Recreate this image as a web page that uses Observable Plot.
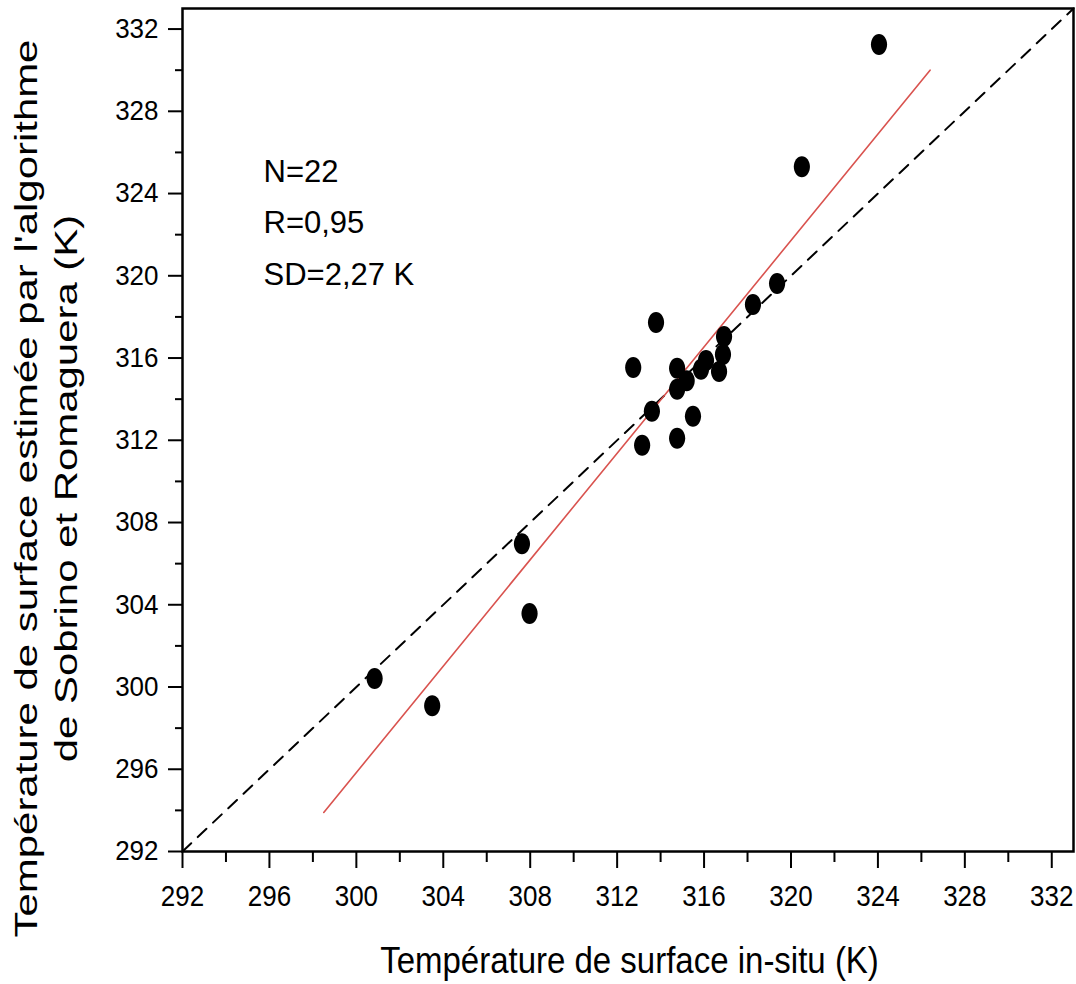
<!DOCTYPE html>
<html>
<head>
<meta charset="utf-8">
<script src="https://cdn.jsdelivr.net/npm/d3@7"></script>
<script src="https://cdn.jsdelivr.net/npm/@observablehq/plot@0.6"></script>
<style>
  html, body { margin: 0; padding: 0; background: #fff; }
  #chart svg { display: block; }
</style>
</head>
<body>
<div id="chart"></div>
<script>
// Data
const xInSitu = [324.05, 320.5, 319.36, 318.25, 316.92, 316.87, 316.69, 316.09, 315.86, 315.2, 314.76,
                 314.76, 313.79, 312.74, 313.6, 315.49, 313.15, 314.76, 307.62, 307.97, 300.84, 303.49];
const yEstimated = [331.25, 325.3, 319.62, 318.6, 317.05, 316.17, 315.35, 315.88, 315.45, 314.9, 315.5,
                    314.48, 317.73, 315.54, 313.41, 313.17, 311.76, 312.10, 306.97, 303.57, 300.41, 299.09];
const fitX = [298.5, 326.4];
const fitY = [293.9, 330.0];
const diagonal = [292, 333];
const majorTicks = [292, 296, 300, 304, 308, 312, 316, 320, 324, 328, 332];
const minorTicks = [294, 298, 302, 306, 310, 314, 318, 322, 326, 330];
const annotLines = ["N=22", "R=0,95", "SD=2,27 K"];
const xLabel = "Température de surface in-situ (K)";
const yLabelLines = ["Température de surface estimée par l'algorithme", "de Sobrino et Romaguera (K)"];

const points = xInSitu.map((x, i) => ({x, y: yEstimated[i]}));
const fit = fitX.map((x, i) => ({x, y: fitY[i]}));
const diag = diagonal.map(v => ({x: v, y: v}));

const ellipse = {
  draw(ctx, size) {
    const r = Math.sqrt(size / Math.PI);
    const rx = r * 0.77, ry = r, k = 0.5523;
    ctx.moveTo(rx, 0);
    ctx.bezierCurveTo(rx, ry * k, rx * k, ry, 0, ry);
    ctx.bezierCurveTo(-rx * k, ry, -rx, ry * k, -rx, 0);
    ctx.bezierCurveTo(-rx, -ry * k, -rx * k, -ry, 0, -ry);
    ctx.bezierCurveTo(rx * k, -ry, rx, -ry * k, rx, 0);
    ctx.closePath();
  }
};

const font = "'Liberation Sans', Arial, Helvetica, sans-serif";

const chart = Plot.plot({
  width: 1076,
  height: 984,
  marginLeft: 182,
  marginTop: 8,
  marginRight: 3,
  marginBottom: 133,
  style: {fontFamily: font, fontSize: "25px", color: "black", background: "white"},
  x: {domain: [292, 333]},
  y: {domain: [292, 333]},
  marks: [
    Plot.axisX({ticks: minorTicks, tickSize: 11, text: null, strokeWidth: 2, label: null}),
    Plot.axisX({ticks: majorTicks, tickSize: 17, tickPadding: 17, strokeWidth: 2, fontSize: 26, label: null, tickFormat: d => String(d)}),
    Plot.axisY({ticks: minorTicks, tickSize: 7, text: null, strokeWidth: 2, label: null}),
    Plot.axisY({ticks: majorTicks, tickSize: 14, tickPadding: 10, strokeWidth: 2, fontSize: 26, label: null, tickFormat: d => String(d)}),
    Plot.line(diag, {x: "x", y: "y", stroke: "black", strokeWidth: 2, strokeDasharray: "12,9"}),
    Plot.line(fit, {x: "x", y: "y", stroke: "#d9534f", strokeWidth: 1.6}),
    Plot.dot(points, {x: "x", y: "y", r: 10.5, symbol: ellipse, fill: "black", stroke: "none"}),
    Plot.text([annotLines.join("\n")], {frameAnchor: "top-left", dx: 81, dy: 137, textAnchor: "start", lineAnchor: "top", lineHeight: 1.66, fontSize: 31, fill: "black"}),
    Plot.text([xLabel], {frameAnchor: "bottom", dx: 1.5, dy: 121, fontSize: 33, fill: "black"}),
    Plot.text([yLabelLines[0]], {frameAnchor: "left", textAnchor: "middle", lineAnchor: "middle", dx: -156, dy: 58.5, rotate: -90, fontSize: 32, fill: "black"}),
    Plot.text([yLabelLines[1]], {frameAnchor: "left", textAnchor: "middle", lineAnchor: "middle", dx: -116, dy: 58.5, rotate: -90, fontSize: 32, fill: "black"}),
    Plot.frame({stroke: "black", strokeWidth: 2.5})
  ]
});

// Mimic the stretched lettering of the reference (scale about each text's own anchor)
function stretchText(el, sx, sy) {
  let tr = el.getAttribute("transform");
  if (!tr) {
    const x = +el.getAttribute("x") || 0, y = +el.getAttribute("y") || 0;
    el.removeAttribute("x"); el.removeAttribute("y");
    tr = `translate(${x},${y})`;
  }
  el.setAttribute("transform", `${tr} scale(${sx},${sy})`);
}
chart.querySelectorAll('g[aria-label="x-axis tick label"] text').forEach(t => stretchText(t, 1, 1.1));
chart.querySelectorAll('g[aria-label="y-axis tick label"] text').forEach(t => stretchText(t, 1, 1.05));
chart.querySelectorAll("text").forEach(t => {
  const s = t.textContent;
  if (s === xLabel) stretchText(t, 1, 1.14);
  else if (yLabelLines.includes(s)) stretchText(t, 1.31, 1);
});

document.getElementById("chart").appendChild(chart);
</script>
</body>
</html>
